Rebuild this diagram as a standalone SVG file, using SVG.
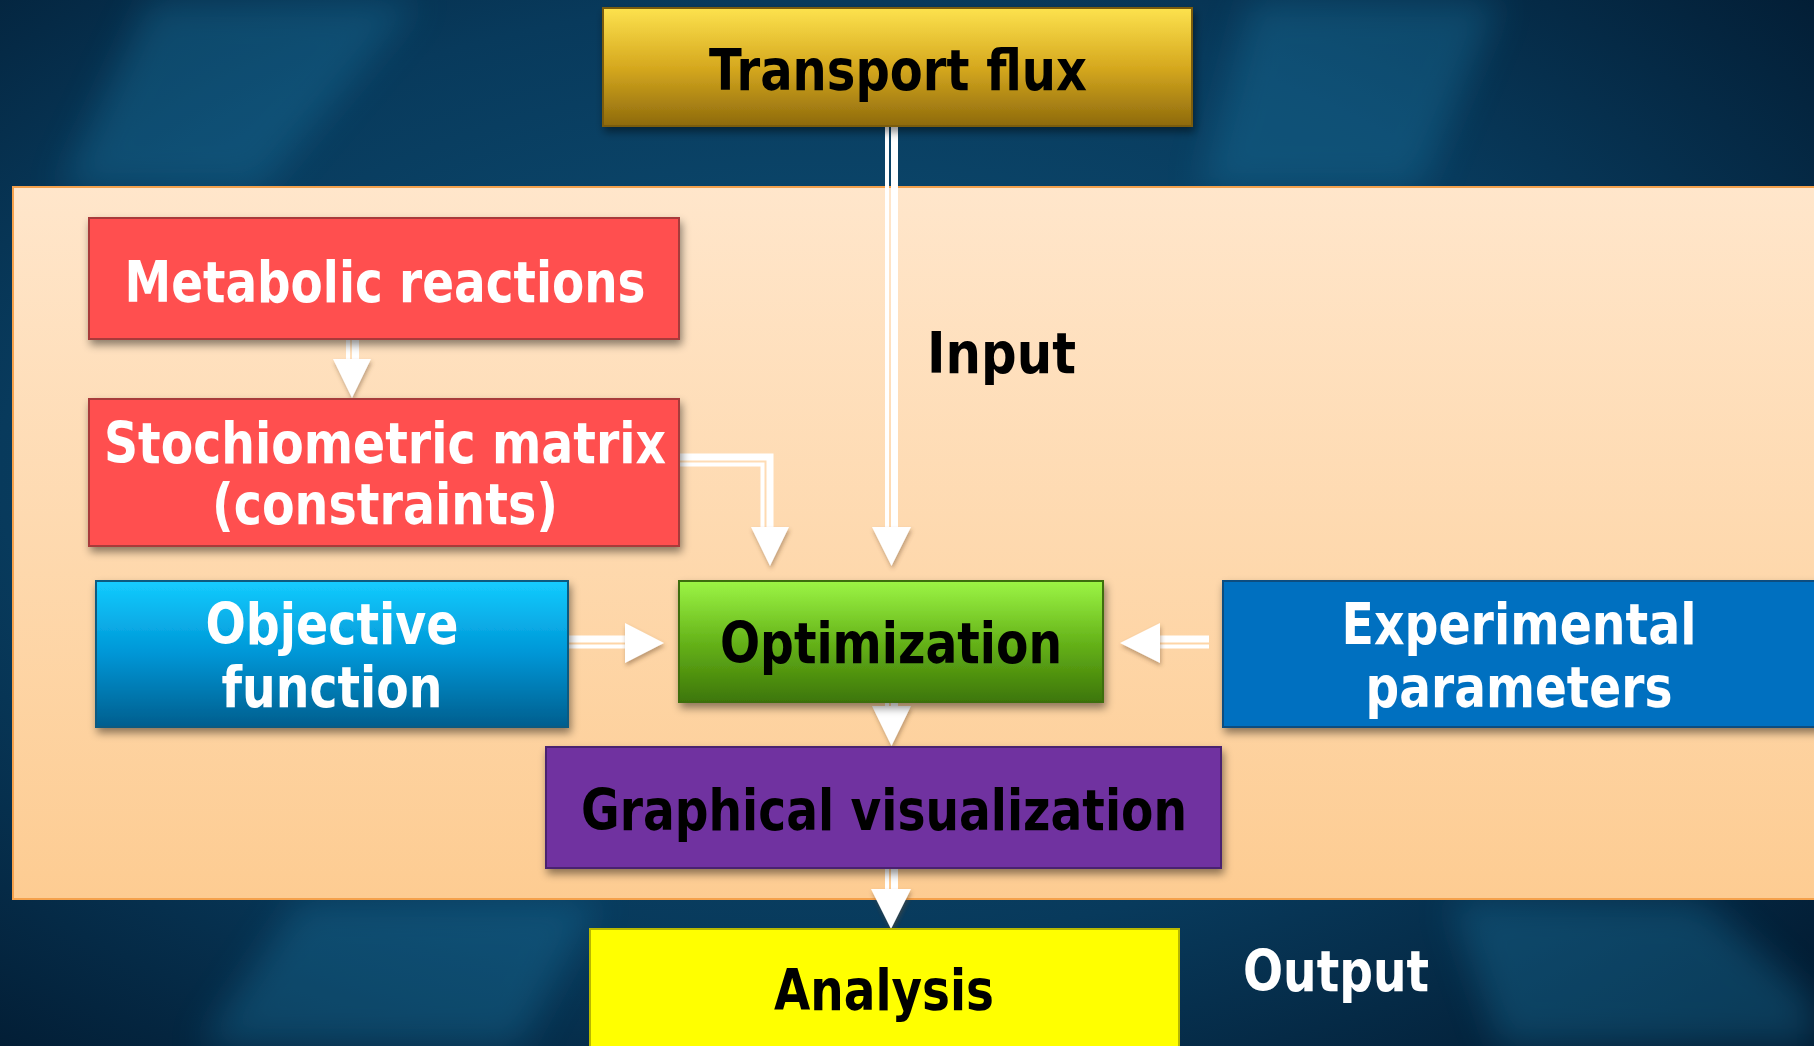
<svg xmlns="http://www.w3.org/2000/svg" width="1814" height="1046" viewBox="0 0 1814 1046">
<style>
.t{font-family:"DejaVu Sans","Liberation Sans",sans-serif;font-weight:bold;font-size:57px;text-anchor:middle}
.w{fill:#ffffff}
.k{fill:#000000}
.ln{stroke:#ffffff;fill:none}
.hd{fill:#ffffff}
</style>
<defs>
<filter id="sh" x="-10%" y="-10%" width="120%" height="130%">
<feDropShadow dx="2" dy="5" stdDeviation="4" flood-color="#000" flood-opacity="0.45"/>
</filter>
<filter id="ash" x="-30%" y="-30%" width="160%" height="160%">
<feDropShadow dx="1" dy="3" stdDeviation="2" flood-color="#6b4a2a" flood-opacity="0.45"/>
</filter>
<filter id="blur"><feGaussianBlur stdDeviation="18"/></filter>
<radialGradient id="bg" cx="0.45" cy="0.45" r="0.75">
<stop offset="0" stop-color="#0e5279"/>
<stop offset="0.6" stop-color="#083a5c"/>
<stop offset="1" stop-color="#021a30"/>
</radialGradient>
<linearGradient id="panel" x1="0" y1="0" x2="0" y2="1">
<stop offset="0" stop-color="#ffe6cb"/>
<stop offset="1" stop-color="#fdcc92"/>
</linearGradient>
<linearGradient id="gold" x1="0" y1="0" x2="0" y2="1">
<stop offset="0" stop-color="#fde24e"/>
<stop offset="0.5" stop-color="#d6a91f"/>
<stop offset="1" stop-color="#8e6a0c"/>
</linearGradient>
<linearGradient id="cyan" x1="0" y1="0" x2="0" y2="1">
<stop offset="0" stop-color="#14ccff"/>
<stop offset="0.5" stop-color="#0096d6"/>
<stop offset="1" stop-color="#005e8e"/>
</linearGradient>
<linearGradient id="green" x1="0" y1="0" x2="0" y2="1">
<stop offset="0" stop-color="#9cf545"/>
<stop offset="0.5" stop-color="#66b41a"/>
<stop offset="1" stop-color="#3d7606"/>
</linearGradient>
</defs>

<g id="background">
<rect x="0" y="0" width="1814" height="1046" fill="url(#bg)"/>
<g filter="url(#blur)" opacity="0.35">
<path d="M150 0 L420 0 L260 190 L60 190 Z" fill="#1a7aa6"/>
<path d="M1250 0 L1500 0 L1420 190 L1200 190 Z" fill="#1a7aa6"/>
<path d="M300 900 L600 900 L520 1046 L200 1046 Z" fill="#1a7aa6"/>
<path d="M1450 900 L1700 900 L1814 1000 L1814 1046 L1500 1046 Z" fill="#1a7aa6"/>
</g>
</g>

<g id="panel">
<rect x="13" y="187" width="1810" height="712" fill="url(#panel)" stroke="#f4a14c" stroke-width="2"/>
</g>

<g id="connectors">
<!-- Transport flux -> Optimization -->
<line class="ln" x1="887" y1="126" x2="887" y2="530" stroke-width="4"/>
<line class="ln" x1="894.5" y1="126" x2="894.5" y2="530" stroke-width="7"/>
<polygon class="hd" filter="url(#ash)" points="872,527 911,527 891.5,566"/>
<!-- Metabolic -> Stochiometric -->
<line class="ln" x1="348" y1="339" x2="348" y2="362" stroke-width="4"/>
<line class="ln" x1="355.5" y1="339" x2="355.5" y2="362" stroke-width="7"/>
<polygon class="hd" filter="url(#ash)" points="333,359 371,359 352,398"/>
<!-- Stochiometric -> Optimization -->
<polyline class="ln" points="679,457 770,457 770,530" stroke-width="7"/>
<polyline class="ln" points="679,464.5 762.5,464.5 762.5,530" stroke-width="4"/>
<polygon class="hd" filter="url(#ash)" points="751,527 789,527 770,566"/>
<!-- Objective -> Optimization -->
<line class="ln" x1="568" y1="639" x2="628" y2="639" stroke-width="7"/>
<line class="ln" x1="568" y1="646.5" x2="628" y2="646.5" stroke-width="4"/>
<polygon class="hd" filter="url(#ash)" points="625,623 625,663 664,643"/>
<!-- Experimental -> Optimization -->
<line class="ln" x1="1157" y1="639" x2="1209" y2="639" stroke-width="7"/>
<line class="ln" x1="1157" y1="646.5" x2="1209" y2="646.5" stroke-width="4"/>
<polygon class="hd" filter="url(#ash)" points="1160,623 1160,663 1120,643"/>
<!-- Optimization -> Graphical visualization -->
<line class="ln" x1="887" y1="702" x2="887" y2="710" stroke-width="4"/>
<line class="ln" x1="894.5" y1="702" x2="894.5" y2="710" stroke-width="7"/>
<polygon class="hd" filter="url(#ash)" points="872,706 911,706 891.5,746"/>
<!-- Graphical visualization -> Analysis -->
<line class="ln" x1="887" y1="868" x2="887" y2="892" stroke-width="4"/>
<line class="ln" x1="894.5" y1="868" x2="894.5" y2="892" stroke-width="7"/>
<polygon class="hd" filter="url(#ash)" points="871,889 911,889 891,929"/>
</g>

<g id="transport-flux">
<rect x="603" y="8" width="589" height="118" fill="url(#gold)" stroke="#7a5c0a" stroke-width="2" filter="url(#sh)"/>
<text class="t k" x="898" y="90" textLength="378" lengthAdjust="spacingAndGlyphs">Transport flux</text>
</g>

<g id="metabolic-reactions">
<rect x="89" y="218" width="590" height="121" fill="#ff5050" stroke="#a83a3a" stroke-width="2" filter="url(#sh)"/>
<text class="t w" x="385" y="302" textLength="521" lengthAdjust="spacingAndGlyphs">Metabolic reactions</text>
</g>

<g id="stochiometric-matrix">
<rect x="89" y="399" width="590" height="147" fill="#ff5050" stroke="#a83a3a" stroke-width="2" filter="url(#sh)"/>
<text class="t w" x="385" y="463" textLength="562" lengthAdjust="spacingAndGlyphs">Stochiometric matrix</text>
<text class="t w" x="385" y="524" textLength="346" lengthAdjust="spacingAndGlyphs">(constraints)</text>
</g>

<g id="objective-function">
<rect x="96" y="581" width="472" height="146" fill="url(#cyan)" stroke="#0b5a80" stroke-width="2" filter="url(#sh)"/>
<text class="t w" x="332" y="644" textLength="253" lengthAdjust="spacingAndGlyphs">Objective</text>
<text class="t w" x="332" y="707" textLength="221" lengthAdjust="spacingAndGlyphs">function</text>
</g>

<g id="optimization">
<rect x="679" y="581" width="424" height="121" fill="url(#green)" stroke="#3d6e10" stroke-width="2" filter="url(#sh)"/>
<text class="t k" x="891" y="663" textLength="342" lengthAdjust="spacingAndGlyphs">Optimization</text>
</g>

<g id="experimental-parameters">
<rect x="1223" y="581" width="600" height="146" fill="#0070c0" stroke="#0a4e80" stroke-width="2" filter="url(#sh)"/>
<text class="t w" x="1519" y="644" textLength="355" lengthAdjust="spacingAndGlyphs">Experimental</text>
<text class="t w" x="1519" y="707" textLength="307" lengthAdjust="spacingAndGlyphs">parameters</text>
</g>

<g id="graphical-visualization">
<rect x="546" y="747" width="675" height="121" fill="#7030a0" stroke="#4a2070" stroke-width="2" filter="url(#sh)"/>
<text class="t k" x="884" y="830" textLength="606" lengthAdjust="spacingAndGlyphs">Graphical visualization</text>
</g>

<g id="analysis">
<rect x="590" y="929" width="589" height="130" fill="#ffff00" stroke="#b8b800" stroke-width="2"/>
<text class="t k" x="884" y="1010" textLength="220" lengthAdjust="spacingAndGlyphs">Analysis</text>
</g>

<g id="labels">
<text class="t k" x="927" y="373" style="text-anchor:start" textLength="149" lengthAdjust="spacingAndGlyphs">Input</text>
<text class="t w" x="1243" y="991" style="text-anchor:start" textLength="186" lengthAdjust="spacingAndGlyphs">Output</text>
</g>
</svg>
